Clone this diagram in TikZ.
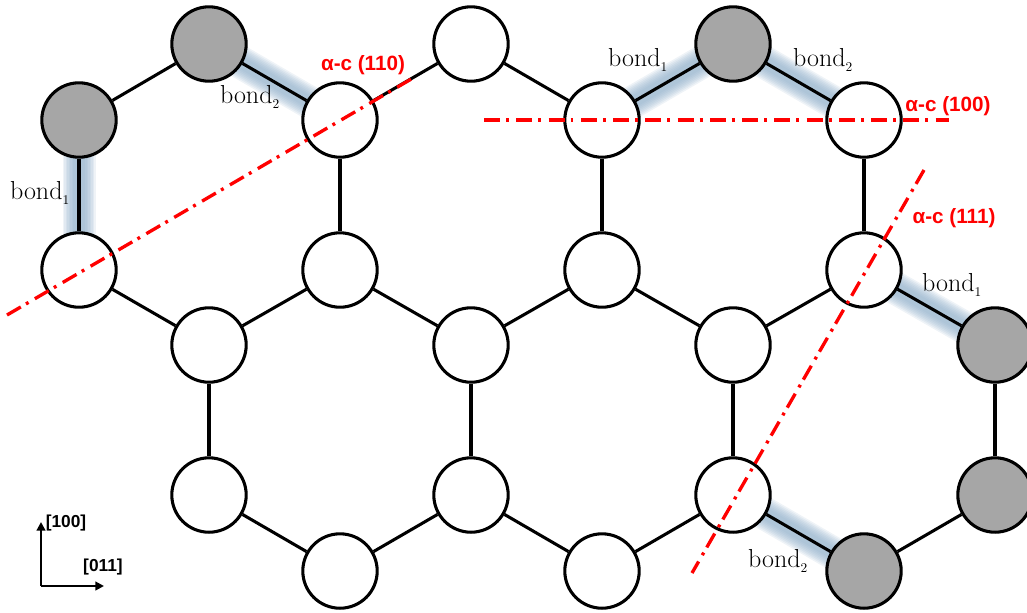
\documentclass[tikz,border=0pt]{standalone}
\usepackage{fontspec}
\usetikzlibrary{arrows.meta,backgrounds}
\newfontfamily\planefont{Liberation Sans}
\definecolor{atomgray}{RGB}{166,166,166}
\definecolor{bondglow}{RGB}{140,172,200}
\tikzset{
  atom/.style={circle, draw, line width=2.3pt, minimum size=55.8pt, inner sep=0pt, fill=white},
  darkatom/.style={atom, fill=atomgray},
  bond/.style={line width=2.3pt},
  cutline/.style={red, line width=2.5pt, dash pattern=on 12pt off 4.5pt on 2.2pt off 5.5pt},
  bondlabel/.style={font=\fontsize{19.5}{21}\selectfont, inner sep=0pt},
  cutlabel/.style={text=red, font=\planefont\bfseries\fontsize{15.5}{17}\selectfont, inner sep=0pt},
  axislabel/.style={font=\planefont\bfseries\fontsize{13}{15}\selectfont, inner sep=0pt}
}

\begin{document}
\begin{tikzpicture}[x=0.75pt, y=-0.75pt]
    \useasboundingbox (0, 0) rectangle (1027, 612);

    % 上段のノード
    \node[darkatom] (A) at (79, 120) {};
    \node[darkatom] (B) at (209, 44) {};
    \node[atom] (C) at (340, 120) {};
    \node[atom] (D) at (471, 44) {};
    \node[atom] (E) at (602, 120) {};
    \node[darkatom] (F) at (733, 44) {};
    \node[atom] (G) at (864, 120) {};

    % 中段のノード
    \node[atom] (H) at (79, 270) {};
    \node[atom] (I) at (340, 270) {};
    \node[atom] (J) at (602, 270) {};
    \node[atom] (K) at (864, 270) {};
    \node[atom] (L) at (209, 345) {};
    \node[atom] (M) at (471, 345) {};
    \node[atom] (N) at (733, 345) {};
    \node[darkatom] (O) at (995, 345) {};

    % 下段のノード
    \node[atom] (P) at (209, 495) {};
    \node[atom] (Q) at (471, 495) {};
    \node[atom] (R) at (733, 495) {};
    \node[darkatom] (S) at (995, 495) {};
    \node[atom] (T) at (340, 571) {};
    \node[atom] (U) at (602, 571) {};
    \node[darkatom] (V) at (864, 571) {};

    % 結合のぼかし
    \begin{scope}[on background layer]
      \foreach \glow in {33, 30, 27, 24, 21, 18, 15, 12} {
        \draw[bondglow, opacity=0.14, line width=\glow*0.75pt] (A.center) -- (H.center);
        \draw[bondglow, opacity=0.14, line width=\glow*0.75pt] (B.center) -- (C.center);
        \draw[bondglow, opacity=0.14, line width=\glow*0.75pt] (E.center) -- (F.center);
        \draw[bondglow, opacity=0.14, line width=\glow*0.75pt] (F.center) -- (G.center);
        \draw[bondglow, opacity=0.14, line width=\glow*0.75pt] (K.center) -- (O.center);
        \draw[bondglow, opacity=0.14, line width=\glow*0.75pt] (R.center) -- (V.center);
      }
    \end{scope}

    % エッジ
    \draw[bond] (A) -- (B);
    \draw[bond] (B) -- (C);
    \draw[bond] (C) -- (D);
    \draw[bond] (D) -- (E);
    \draw[bond] (E) -- (F);
    \draw[bond] (F) -- (G);
    \draw[bond] (A) -- (H);
    \draw[bond] (C) -- (I);
    \draw[bond] (E) -- (J);
    \draw[bond] (G) -- (K);
    \draw[bond] (H) -- (L);
    \draw[bond] (L) -- (I);
    \draw[bond] (I) -- (M);
    \draw[bond] (M) -- (J);
    \draw[bond] (J) -- (N);
    \draw[bond] (N) -- (K);
    \draw[bond] (K) -- (O);
    \draw[bond] (L) -- (P);
    \draw[bond] (M) -- (Q);
    \draw[bond] (N) -- (R);
    \draw[bond] (O) -- (S);
    \draw[bond] (P) -- (T);
    \draw[bond] (T) -- (Q);
    \draw[bond] (Q) -- (U);
    \draw[bond] (U) -- (R);
    \draw[bond] (R) -- (V);
    \draw[bond] (V) -- (S);

    % 切断面
    \coordinate (cutA) at (7, 315);
    \coordinate (cutB) at (413, 78);
    \coordinate (cutC) at (484, 120);
    \coordinate (cutD) at (949, 120);
    \coordinate (cutE) at (924, 170);
    \coordinate (cutF) at (692, 573);
    \draw[cutline] (cutA) -- (cutB);
    \draw[cutline] (cutC) -- (cutD);
    \draw[cutline] (cutE) -- (cutF);

    % ラベル
    \node[bondlabel] (bondA) at (40, 193) {bond$_{\scriptscriptstyle 1}$};
    \node[bondlabel] (bondB) at (250, 97) {bond$_{\scriptscriptstyle 2}$};
    \node[bondlabel] (bondC) at (638, 60) {bond$_{\scriptscriptstyle 1}$};
    \node[bondlabel] (bondD) at (823, 60) {bond$_{\scriptscriptstyle 2}$};
    \node[bondlabel] (bondE) at (952, 285) {bond$_{\scriptscriptstyle 1}$};
    \node[bondlabel] (bondF) at (778, 561) {bond$_{\scriptscriptstyle 2}$};
    \node[cutlabel] (cutlabelA) at (363, 65) {α-c (110)};
    \node[cutlabel] (cutlabelB) at (948, 106) {α-c (100)};
    \node[cutlabel] (cutlabelC) at (954, 218) {α-c (111)};

    % 座標軸
    \coordinate (origin) at (41, 586);
    \coordinate (axisup) at (41, 522);
    \coordinate (axisright) at (104, 586);
    \draw[line width=1.9pt, -{Triangle[length=6.5pt, width=6.5pt]}] (origin) -- (axisup);
    \draw[line width=1.9pt, -{Triangle[length=6.5pt, width=6.5pt]}] (origin) -- (axisright);
    \node[axislabel] (axisA) at (66, 523) {[100]};
    \node[axislabel] (axisB) at (103, 567) {[011]};
  \end{tikzpicture}
\end{document}
